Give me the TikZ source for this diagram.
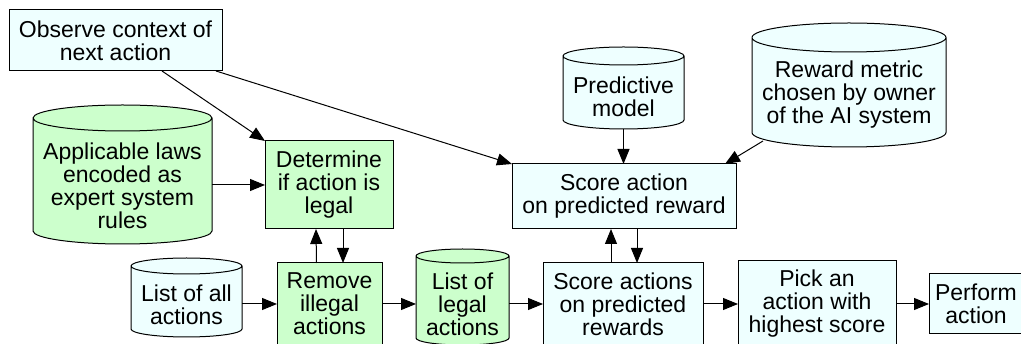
\documentclass[tikz,border=0pt]{standalone}
\usepackage{fontspec}
\setmainfont{Liberation Sans}
\usetikzlibrary{arrows.meta,calc}
\definecolor{gfill}{RGB}{204,255,204}
\definecolor{cfill}{RGB}{238,255,255}
\newcommand\cylshape[3]{%
  \path[line width=1pt, draw=black, fill=#3] let \p1=(#1.north west), \p2=(#1.south east), \n1={(\x2-\x1)/2} in
    (\x1,\y1-#2) -- (\x1,\y2+#2) arc[start angle=180,end angle=360,x radius={\n1*1pt},y radius=#2]
    -- (\x2,\y1-#2) arc[start angle=0,end angle=180,x radius={\n1*1pt},y radius=#2] -- cycle
    (\x1,\y1-#2) arc[start angle=180,end angle=360,x radius={\n1*1pt},y radius=#2];
}
\tikzset{
  lbl/.style={font=\fontsize{23}{23}\selectfont, align=center, inner sep=0pt},
  procbox/.style={lbl, draw, line width=1pt, outer sep=0pt},
  cylbox/.style={inner sep=0pt, outer sep=0pt},
  arr/.style={line width=1pt, -{Triangle[length=15pt,width=12pt]}},
}
\begin{document}
\begin{tikzpicture}[x=1pt,y=1pt]
\clip (0,0) rectangle (1021,-344);
% cylinders
\node[cylbox, minimum width=121pt, minimum height=82pt] (pred) at (623.5,-88) {};
\cylshape{pred}{9pt}{cfill}
\node[lbl] (predT) at (623.5,-96.5) {Predictive\\model};
\node[cylbox, minimum width=194pt, minimum height=124pt] (reward) at (849,-85) {};
\cylshape{reward}{14.5pt}{cfill}
\node[lbl] (rewardT) at (849,-95) {Reward metric\\chosen by owner\\of the AI system};
\node[cylbox, minimum width=179pt, minimum height=139pt] (laws) at (122.5,-174.5) {};
\cylshape{laws}{13pt}{gfill}
\node[lbl] (lawsT) at (122.5,-186) {Applicable laws\\encoded as\\expert system\\rules};
\node[cylbox, minimum width=111pt, minimum height=79pt] (all) at (186.5,-297.5) {};
\cylshape{all}{8pt}{cfill}
\node[lbl] (allT) at (186.5,-304.5) {List of all\\actions};
\node[cylbox, minimum width=93pt, minimum height=96pt] (legal) at (462.5,-297) {};
\cylshape{legal}{7pt}{gfill}
\node[lbl] (legalT) at (462.5,-304) {List of\\legal\\actions};
% boxes
\node[procbox, fill=cfill, minimum width=213pt, minimum height=61pt] (obs) at (115.5,-40.5) {Observe context of\\next action};
\node[procbox, fill=gfill, minimum width=128pt, minimum height=88pt] (det) at (329,-185) {Determine\\if action is\\legal};
\node[procbox, fill=cfill, minimum width=224pt, minimum height=65pt] (sa) at (624,-196.5) {Score action\\on predicted reward};
\node[procbox, fill=gfill, minimum width=105pt, minimum height=82pt] (rem) at (329.5,-304) {Remove\\illegal\\actions};
\node[procbox, fill=cfill, minimum width=160pt, minimum height=82pt] (sas) at (623,-304) {Score actions\\on predicted\\rewards};
\node[procbox, fill=cfill, minimum width=158pt, minimum height=86pt] (pick) at (817,-304) {Pick an\\action with\\highest score};
\node[procbox, fill=cfill, minimum width=94pt, minimum height=60pt] (perf) at (976,-304) {Perform\\action};
% connectors
\draw[arr] ([xshift=46.5pt]obs.south) -- (det.north west);
\draw[arr] ([xshift=-6pt]obs.south east) -- (sa.north west);
\draw[arr] ([shift={(11pt,6pt)}]reward.south west) -- ([xshift=-11pt]sa.north east);
\draw[arr] (pred.south) -- (pred.south |- sa.north);
\draw[arr] (laws.east |- det.west) -- (det.west);
\draw[arr] ([xshift=-13pt]rem.north) -- ([xshift=-13.5pt]rem.north |- det.south);
\draw[arr] ([xshift=14pt]det.south) -- ([xshift=14pt]det.south |- rem.north);
\draw[arr] ([xshift=-12pt]sas.north) -- ([xshift=-12pt]sas.north |- sa.south);
\draw[arr] ([xshift=14pt]sas.north |- sa.south) -- ([xshift=14pt]sas.north);
\draw[arr] (rem.west -| all.east) -- (rem.west);
\draw[arr] (rem.east) -- (rem.east -| legal.west);
\draw[arr] (sas.west -| legal.east) -- (sas.west);
\draw[arr] (sas.east) -- (pick.west);
\draw[arr] (pick.east) -- (perf.west);
\end{tikzpicture}
\end{document}
